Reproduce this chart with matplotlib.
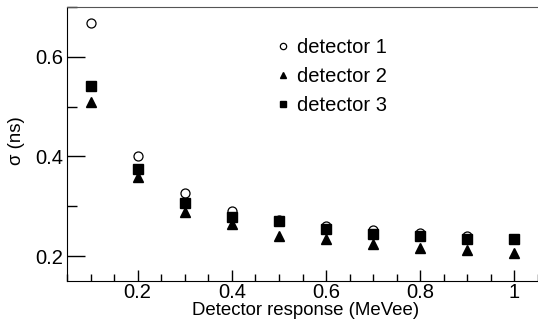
import matplotlib
matplotlib.use('Agg')
from matplotlib import pyplot as plt
from matplotlib.ticker import MultipleLocator

plt.rcParams['font.family'] = ['Liberation Sans', 'DejaVu Sans']

# detector response (MeVee)
energy = [0.1, 0.2, 0.3, 0.4, 0.5, 0.6, 0.7, 0.8, 0.9, 1.0]
# time resolution sigma (ns)
det1 = [0.668, 0.401, 0.327, 0.291, 0.272, 0.261, 0.252, 0.246, 0.241, 0.234]
det2 = [0.510, 0.359, 0.288, 0.264, 0.241, 0.234, 0.224, 0.217, 0.213, 0.207]
det3 = [0.542, 0.375, 0.307, 0.279, 0.270, 0.255, 0.244, 0.241, 0.235, 0.234]

fig = plt.figure(figsize=(5.38, 3.22), dpi=100)
ax = fig.add_axes([67 / 538, 1 - 281 / 322, 1 - 67 / 538, (281 - 7) / 322])

ax.plot(energy, det1, 'o', mfc='white', mec='black', mew=0.9, ms=6.5,
        label='detector 1')
ax.plot(energy, det2, '^', color='black', ms=6.5, label='detector 2')
ax.plot(energy, det3, 's', color='black', ms=6.8, label='detector 3')

ax.set_xlim(0.05, 1.05)
ax.set_ylim(0.15, 0.70)
ax.xaxis.set_major_locator(MultipleLocator(0.2))
ax.xaxis.set_minor_locator(MultipleLocator(0.05))
ax.yaxis.set_major_locator(MultipleLocator(0.2))
ax.yaxis.set_minor_locator(MultipleLocator(0.1))
ax.xaxis.set_major_formatter(lambda v, p: f'{v:g}')
ax.yaxis.set_major_formatter(lambda v, p: f'{v:g}')

ax.tick_params(which='both', direction='in', top=False, right=False,
               labelsize=14.5, width=1, pad=3)
ax.tick_params(axis='x', which='both', pad=1.5)
ax.tick_params(axis='y', which='major', length=13)
ax.tick_params(axis='y', which='minor', length=7)
ax.tick_params(axis='x', which='major', length=8)
ax.tick_params(axis='x', which='minor', length=5)

ax.spines['right'].set_visible(False)
for s in ['left', 'bottom']:
    ax.spines[s].set_color('black')
ax.spines['top'].set_color('#555555')

ax.set_xlabel('Detector response (MeVee)', fontsize=13.4)
ax.xaxis.set_label_coords((306 - 67) / 471, -0.078)
ax.set_ylabel('σ (ns)', fontsize=13.4)
ax.yaxis.set_label_coords(-(67 - 25) / 471, 0.511)

ax.legend(loc='upper left', bbox_to_anchor=(0.4215, 0.923), frameon=False,
          fontsize=14.5, handlelength=0.7, handletextpad=0.35,
          labelspacing=0.5, borderpad=0, numpoints=1, markerscale=0.7)

fig.savefig('out.png', dpi=100)
